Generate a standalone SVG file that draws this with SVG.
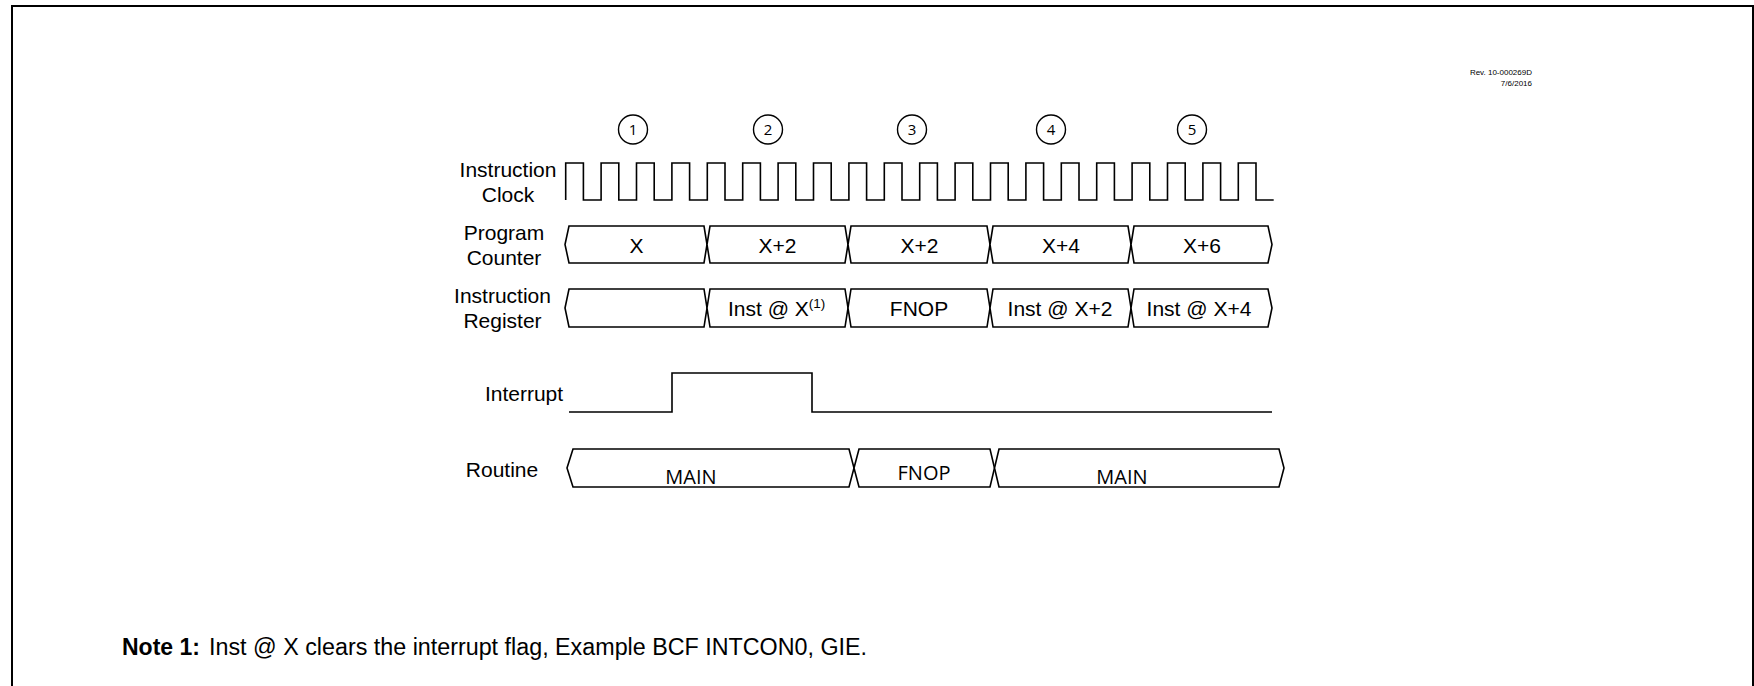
<svg xmlns="http://www.w3.org/2000/svg" width="1754" height="686" viewBox="0 0 1754 686">
<style>
.lbl{font-family:"Liberation Sans",Arial,sans-serif;font-size:21px;fill:#000;text-anchor:middle}
.val{font-family:"Liberation Sans",Arial,sans-serif;font-size:21px;fill:#000;text-anchor:middle}
.rt{font-family:"Open Sans","Noto Sans",sans-serif;font-size:20px;fill:#000;text-anchor:middle}
.num{font-family:"Open Sans","Noto Sans",sans-serif;font-size:15px;fill:#000;text-anchor:middle}
.bus{fill:#fff;stroke:#000;stroke-width:1.6;stroke-linejoin:miter}
.wave{fill:none;stroke:#000;stroke-width:1.6}
.circ{fill:#fff;stroke:#000;stroke-width:1.4}
.rev{font-family:"Liberation Sans",Arial,sans-serif;font-size:8px;fill:#000;text-anchor:end}
.note{font-family:"Liberation Sans",Arial,sans-serif;font-size:23px;fill:#000}
</style>
<rect width="1754" height="686" fill="#fff"/>
<path id="border" d="M12,686 V6 H1753 V686" fill="none" stroke="#000" stroke-width="2"/>
<g id="rev">
<text class="rev" x="1532" y="75">Rev. 10-000269D</text>
<text class="rev" x="1532" y="85.5">7/6/2016</text>
</g>
<g id="cycles">
<g id="c1"><circle class="circ" cx="633" cy="129.5" r="14.5"/><text class="num" x="633" y="135">1</text></g>
<g id="c2"><circle class="circ" cx="768" cy="129.5" r="14.5"/><text class="num" x="768" y="135">2</text></g>
<g id="c3"><circle class="circ" cx="912" cy="129.5" r="14.5"/><text class="num" x="912" y="135">3</text></g>
<g id="c4"><circle class="circ" cx="1051" cy="129.5" r="14.5"/><text class="num" x="1051" y="135">4</text></g>
<g id="c5"><circle class="circ" cx="1192" cy="129.5" r="14.5"/><text class="num" x="1192" y="135">5</text></g>
</g>
<g id="labels">
<text class="lbl" x="508" y="177">Instruction</text>
<text class="lbl" x="508" y="202">Clock</text>
<text class="lbl" x="504" y="240">Program</text>
<text class="lbl" x="504" y="265">Counter</text>
<text class="lbl" x="502.5" y="303">Instruction</text>
<text class="lbl" x="502.5" y="328">Register</text>
<text class="lbl" x="524" y="400.5">Interrupt</text>
<text class="lbl" x="502" y="477">Routine</text>
</g>
<g id="connectors">
<path id="clock" class="wave" d="M565.7,200v-37h17.7v37h17.7v-37h17.7v37h17.7v-37h17.7v37h17.7v-37h17.7v37h17.7v-37h17.7v37h17.7v-37h17.7v37h17.7v-37h17.7v37h17.7v-37h17.7v37h17.7v-37h17.7v37h17.7v-37h17.7v37h17.7v-37h17.7v37h17.7v-37h17.7v37h17.7v-37h17.7v37h17.7v-37h17.7v37h17.7v-37h17.7v37h17.7v-37h17.7v37h17.7v-37h17.7v37h17.7v-37h17.7v37h17.7v-37h17.7v37h17.7v-37h17.7v37h17.7"/>
<path id="interrupt" class="wave" d="M569,412 H672 V373 H812 V412 H1272"/>
</g>
<g id="pc">
<polygon class="bus" points="565,244.5 569,226 704,226 707,244.5 704,263 569,263"/>
<polygon class="bus" points="707,244.5 710,226 845,226 848,244.5 845,263 710,263"/>
<polygon class="bus" points="848,244.5 851,226 987,226 990,244.5 987,263 851,263"/>
<polygon class="bus" points="990,244.5 993,226 1128,226 1131,244.5 1128,263 993,263"/>
<polygon class="bus" points="1131,244.5 1134,226 1268,226 1272,244.5 1268,263 1134,263"/>
<text class="val" x="636.5" y="252.7">X</text>
<text class="val" x="777.5" y="252.7">X+2</text>
<text class="val" x="919.5" y="252.7">X+2</text>
<text class="val" x="1061" y="252.7">X+4</text>
<text class="val" x="1202" y="252.7">X+6</text>
</g>
<g id="ir">
<polygon class="bus" points="565,308 569,289 704,289 707,308 704,327 569,327"/>
<polygon class="bus" points="707,308 710,289 845,289 848,308 845,327 710,327"/>
<polygon class="bus" points="848,308 851,289 987,289 990,308 987,327 851,327"/>
<polygon class="bus" points="990,308 993,289 1128,289 1131,308 1128,327 993,327"/>
<polygon class="bus" points="1131,308 1134,289 1268,289 1272,308 1268,327 1134,327"/>
<text class="val" x="728" y="315.7" style="text-anchor:start">Inst @ X<tspan dy="-8" font-size="13.5">(1)</tspan></text>
<text class="val" x="919" y="315.7">FNOP</text>
<text class="val" x="1060" y="315.7">Inst @ X+2</text>
<text class="val" x="1199" y="315.7">Inst @ X+4</text>
</g>
<g id="routine">
<polygon class="bus" points="567,468 573,449 849,449 854,468 849,487 573,487"/>
<polygon class="bus" points="854,468 859,449 990,449 994.5,468 990,487 859,487"/>
<polygon class="bus" points="994.5,468 999,449 1279,449 1284,468 1279,487 999,487"/>
<text class="rt" x="691" y="483.5">MAIN</text>
<text class="rt" x="924" y="479.5">FNOP</text>
<text class="rt" x="1122" y="483.5">MAIN</text>
</g>
<g id="note">
<text class="note" x="122" y="655"><tspan font-weight="bold">Note 1:</tspan><tspan x="209" font-size="23.3px">Inst @ X clears the interrupt flag, Example BCF INTCON0, GIE.</tspan></text>
</g>
</svg>
